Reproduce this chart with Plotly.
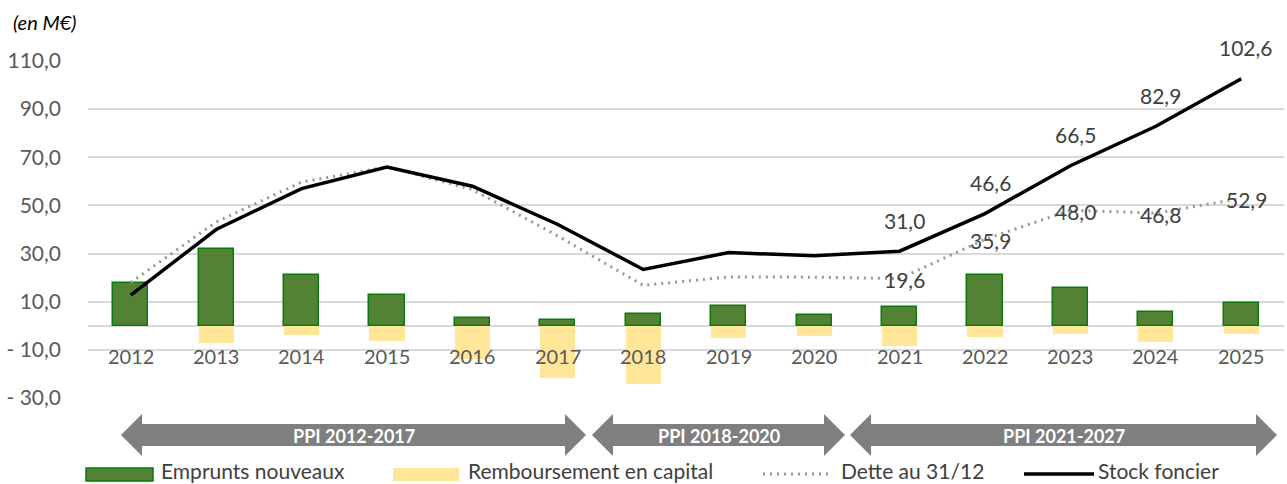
import plotly.graph_objects as go

# ---------------- data ----------------
years = [2012, 2013, 2014, 2015, 2016, 2017, 2018, 2019, 2020, 2021, 2022, 2023, 2024, 2025]
emprunts = [17.6, 31.7, 21.0, 12.7, 3.4, 2.5, 4.8, 8.4, 4.4, 8.0, 21.2, 15.9, 5.8, 9.6]
remboursement = [0.0, -7.0, -3.7, -6.4, -14.0, -21.5, -24.0, -4.9, -4.2, -8.3, -4.6, -3.6, -6.9, -3.5]
dette = [18.0, 43.1, 59.7, 66.0, 56.6, 37.3, 16.8, 20.3, 20.2, 19.6, 35.9, 48.0, 46.8, 52.9]
stock = [12.7, 40.0, 57.0, 65.9, 58.0, 42.1, 23.4, 30.4, 29.1, 31.0, 46.6, 66.5, 82.9, 102.6]
label_years = [2021, 2022, 2023, 2024, 2025]
y_tickvals = [-30, -10, 10, 30, 50, 70, 90, 110]
y_ticktext = ["- 30,0", "- 10,0", "10,0", "30,0", "50,0", "70,0", "90,0", "110,0"]
ppi_periods = ["PPI 2012-2017", "PPI 2018-2020", "PPI 2021-2027"]
series_names = ["Emprunts nouveaux", "Remboursement en capital", "Dette au 31/12", "Stock foncier"]

# ---------------- styles ----------------
FONT = "Lato"
GREEN = "#548235"
GREEN_EDGE = "#0A7B0A"
YELLOW = "#FFE699"
DOT = "#8E9F82"
GRID = "#D9D9D9"
TXT = "#595959"
LBL = "#404040"
ARROW = "#7F7F7F"

W, H = 1287, 484
L, R, T, B = 88, 1284, 61, 398  # plot area in pixels


def px(x):
    return (x - L) / (R - L)


def py(y):
    return (B - y) / (B - T)


def fmt(v):
    return f"{v:.1f}".replace(".", ",")


fig = go.Figure()
fig.add_trace(go.Bar(x=years, y=emprunts, width=0.41, name=series_names[0],
                     marker=dict(color=GREEN, line=dict(color=GREEN_EDGE, width=1.5))))
fig.add_trace(go.Bar(x=years, y=remboursement, width=0.41, name=series_names[1],
                     marker=dict(color=YELLOW, line=dict(width=0))))
fig.add_trace(go.Scatter(x=years, y=dette, mode="lines", name=series_names[2],
                         line=dict(color=DOT, width=3, dash="2px,5px")))
fig.add_trace(go.Scatter(x=years, y=stock, mode="lines", name=series_names[3],
                         line=dict(color="black", width=3.5)))

annotations = []
# year labels next to the zero axis
for yr in years:
    annotations.append(dict(x=yr, y=0, xref="x", yref="y", text=str(yr), showarrow=False,
                            yanchor="middle", yshift=-30,
                            font=dict(family=FONT, size=20, color=TXT)))
# data labels
for yr, v in zip(years, stock):
    if yr in label_years:
        annotations.append(dict(x=yr, y=v, xref="x", yref="y", text=fmt(v), showarrow=False,
                                yanchor="middle", yshift=31, xshift=5,
                                font=dict(family=FONT, size=21, color=LBL)))
for yr, v in zip(years, dette):
    if yr in label_years:
        annotations.append(dict(x=yr, y=v, xref="x", yref="y", text=fmt(v), showarrow=False,
                                yanchor="middle", yshift=-1, xshift=5,
                                font=dict(family=FONT, size=21, color=LBL)))
# unit label
annotations.append(dict(x=px(11), y=py(22), xref="paper", yref="paper", text="<i>(en M€)</i>",
                        showarrow=False, xanchor="left", yanchor="middle",
                        font=dict(family=FONT, size=20, color="black")))

shapes = []
# PPI arrows
arrow_px = [(121, 586), (592, 845), (850, 1277)]
yc, hh, sh, hl = 435, 21, 11, 21
for (x1, x2), label in zip(arrow_px, ppi_periods):
    pts = [(x1, yc), (x1 + hl, yc - hh), (x1 + hl, yc - sh), (x2 - hl, yc - sh), (x2 - hl, yc - hh),
           (x2, yc), (x2 - hl, yc + hh), (x2 - hl, yc + sh), (x1 + hl, yc + sh), (x1 + hl, yc + hh)]
    path = "M " + " L ".join(f"{px(a):.5f},{py(b):.5f}" for a, b in pts) + " Z"
    shapes.append(dict(type="path", xref="paper", yref="paper", path=path,
                       fillcolor=ARROW, line=dict(width=0)))
    annotations.append(dict(x=px((x1 + x2) / 2), y=py(436), xref="paper", yref="paper",
                            text=f"<b>{label}</b>", showarrow=False, xanchor="center", yanchor="middle",
                            font=dict(family=FONT, size=18, color="white")))

# manual legend
ly = 474
shapes.append(dict(type="rect", xref="paper", yref="paper", x0=px(86), x1=px(153), y0=py(481), y1=py(468),
                   fillcolor=GREEN, line=dict(color=GREEN_EDGE, width=1.5)))
shapes.append(dict(type="rect", xref="paper", yref="paper", x0=px(393), x1=px(459), y0=py(481), y1=py(468),
                   fillcolor=YELLOW, line=dict(width=0)))
shapes.append(dict(type="line", xref="paper", yref="paper", x0=px(763), x1=px(828), y0=py(ly), y1=py(ly),
                   line=dict(color=DOT, width=3, dash="2px,5px")))
shapes.append(dict(type="line", xref="paper", yref="paper", x0=px(1024), x1=px(1094), y0=py(ly), y1=py(ly),
                   line=dict(color="black", width=3.5)))
for xl, name in zip([160, 467, 840, 1097], series_names):
    annotations.append(dict(x=px(xl), y=py(484), xref="paper", yref="paper", text=name, showarrow=False,
                            xanchor="left", yanchor="bottom", borderpad=0,
                            font=dict(family=FONT, size=21, color=LBL)))

fig.update_layout(
    width=W, height=H, autosize=False,
    margin=dict(l=L, r=W - R, t=T, b=H - B, pad=0),
    plot_bgcolor="white", paper_bgcolor="white",
    barmode="relative", bargap=0,
    showlegend=False,
    font=dict(family=FONT, size=20, color=TXT),
    xaxis=dict(range=[2011.5, 2025.5], showticklabels=False, showgrid=False, zeroline=False,
               showline=False, ticks=""),
    yaxis=dict(range=[-30, 110], tickvals=y_tickvals, ticktext=y_ticktext,
               showgrid=True, gridcolor=GRID, gridwidth=1.5,
               zeroline=True, zerolinecolor=GRID, zerolinewidth=1.5,
               showline=False, ticks="", ticklabelstandoff=26,
               tickfont=dict(family=FONT, size=21, color=TXT)),
    annotations=annotations,
    shapes=shapes,
)

fig.write_html("out.html", config={"displayModeBar": False},
               post_script="document.body.style.margin='0';document.body.style.overflow='hidden';")
